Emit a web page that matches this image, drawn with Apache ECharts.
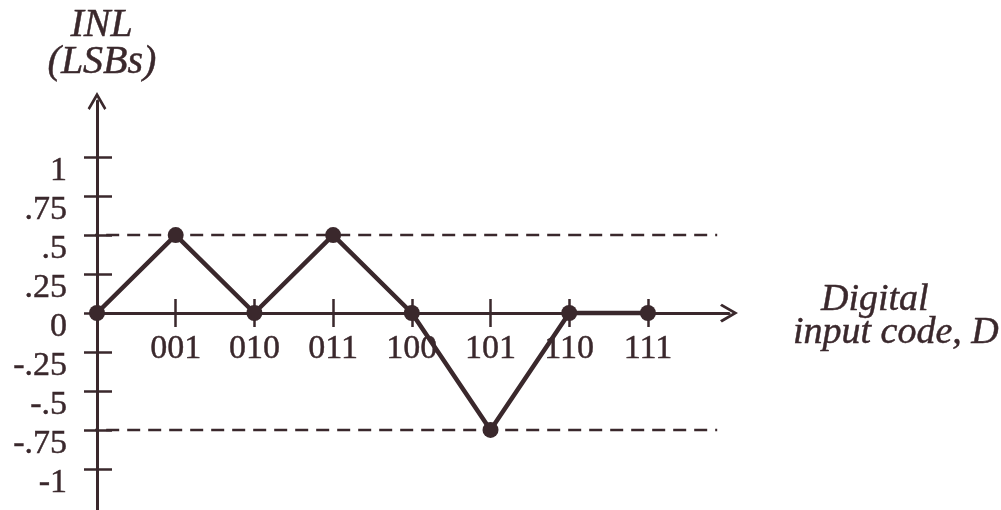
<!DOCTYPE html>
<html>
<head>
<meta charset="utf-8">
<script src="https://cdn.jsdelivr.net/npm/echarts@6/dist/echarts.min.js"></script>
<style>
  html, body { margin: 0; padding: 0; background: #ffffff; }
  #chart { width: 1001px; height: 510px; }
</style>
</head>
<body>
<div id="chart"></div>
<script>
// Input codes and the INL measured at each code (in LSBs)
const codes = ['000', '001', '010', '011', '100', '101', '110', '111'];
const inl = [0, 0.5, 0, 0.5, 0, -0.75, 0, 0];

// Y tick positions and their printed labels
const yTicks = [1, 0.75, 0.5, 0.25, 0, -0.25, -0.5, -0.75, -1];
const yTickLabels = ['1', '.75', '.5', '.25', '0', '-.25', '-.5', '-.75', '-1'];

// Error bounds shown as dashed reference lines
const bounds = [0.5, -0.75];
const boundSpan = [-0.15, 7.88];

// Axis extents (the arrows sit just past the ends)
const xRange = [0, 8.03];
const yRange = [-1.27, 1.36];

const ink = '#3a282c';
const serif = '"Liberation Serif", "Times New Roman", serif';
const chevron = 'path://M5,0 L10,8.6 L8.9,9.6 L5,2.9 L1.1,9.6 L0,8.6 Z';
const heavy = { textBorderColor: ink, textBorderWidth: 0.45 };

const grid = { left: 97, top: 101, width: 632, height: 410 };
// The code axis runs through INL = 0: lift it from the grid's bottom edge to there
const zeroLift = -grid.height * (0 - yRange[0]) / (yRange[1] - yRange[0]);

const xTickValues = codes.map((c, i) => i).slice(1);

const chart = echarts.init(document.getElementById('chart'), null, { renderer: 'canvas' });

const tickStyle = { color: ink, width: 2.5, opacity: 1 };
const hiddenLine = { show: true, onZero: false, lineStyle: { color: 'rgba(0,0,0,0)', width: 1 } };

const baseX = { type: 'value', min: xRange[0], max: xRange[1], position: 'bottom', offset: zeroLift, splitLine: { show: false } };
const baseY = { type: 'value', min: yRange[0], max: yRange[1], position: 'left', offset: 0, splitLine: { show: false } };

const italic = size => Object.assign({ color: ink, fontFamily: serif, fontStyle: 'italic', fontSize: size }, heavy);

chart.setOption({
  animation: false,
  backgroundColor: '#ffffff',
  grid: Object.assign({ containLabel: false, outerBoundsMode: 'none' }, grid),
  xAxis: [
    Object.assign({}, baseX, {
      axisLine: {
        show: true, onZero: false,
        lineStyle: { color: ink, width: 3 },
        symbol: ['none', chevron], symbolSize: [22, 18]
      },
      axisTick: { show: true, inside: false, length: 14, lineStyle: tickStyle, customValues: xTickValues },
      axisLabel: Object.assign({
        show: true, margin: 19, color: ink, fontFamily: serif, fontSize: 34,
        customValues: xTickValues,
        formatter: v => codes[Math.round(v)]
      }, heavy),
      name: '{a|Digital}\n{b|input code, D}',
      nameLocation: 'end',
      nameGap: 64,
      nameTextStyle: Object.assign(italic(38), {
        align: 'left', verticalAlign: 'middle',
        rich: {
          a: Object.assign(italic(38), { lineHeight: 40, padding: [14, 0, 0, 28] }),
          b: Object.assign(italic(38), { lineHeight: 40 })
        }
      })
    }),
    Object.assign({}, baseX, {
      axisLine: hiddenLine,
      axisTick: { show: true, inside: true, length: 14, lineStyle: tickStyle, customValues: xTickValues },
      axisLabel: { show: false }
    })
  ],
  yAxis: [
    Object.assign({}, baseY, {
      axisLine: {
        show: true, onZero: false,
        lineStyle: { color: ink, width: 3 },
        symbol: ['none', chevron], symbolSize: [22, 18]
      },
      axisTick: { show: true, inside: false, length: 13, lineStyle: tickStyle, customValues: yTicks },
      axisLabel: Object.assign({
        show: true, margin: 30, color: ink, fontFamily: serif, fontSize: 34,
        align: 'right', verticalAlign: 'top', lineHeight: 28,
        customValues: yTicks,
        formatter: v => yTickLabels[yTicks.indexOf(v)]
      }, heavy),
      name: '{a|INL}\n{b|(LSBs)}',
      nameLocation: 'end',
      nameGap: 20,
      nameTextStyle: Object.assign(italic(40), {
        align: 'center', verticalAlign: 'bottom',
        rich: {
          a: Object.assign(italic(40), { lineHeight: 36, padding: [0, 0, 0, 9] }),
          b: Object.assign(italic(40), { lineHeight: 38, padding: [0, 0, 0, 10] })
        }
      })
    }),
    Object.assign({}, baseY, {
      axisLine: hiddenLine,
      axisTick: { show: true, inside: true, length: 15, lineStyle: tickStyle, customValues: yTicks },
      axisLabel: { show: false }
    })
  ],
  series: bounds.map(b => ({
    type: 'line',
    data: boundSpan.map(x => [x, b]),
    clip: false,
    symbol: 'none',
    silent: true,
    lineStyle: { color: ink, width: 2.5, type: [13, 8] },
    z: 1
  })).concat([{
    type: 'line',
    data: inl.map((v, i) => [i, v]),
    clip: false,
    symbol: 'circle',
    symbolSize: 16,
    itemStyle: { color: ink },
    lineStyle: { color: ink, width: 4.5 },
    z: 3
  }])
});
</script>
</body>
</html>
